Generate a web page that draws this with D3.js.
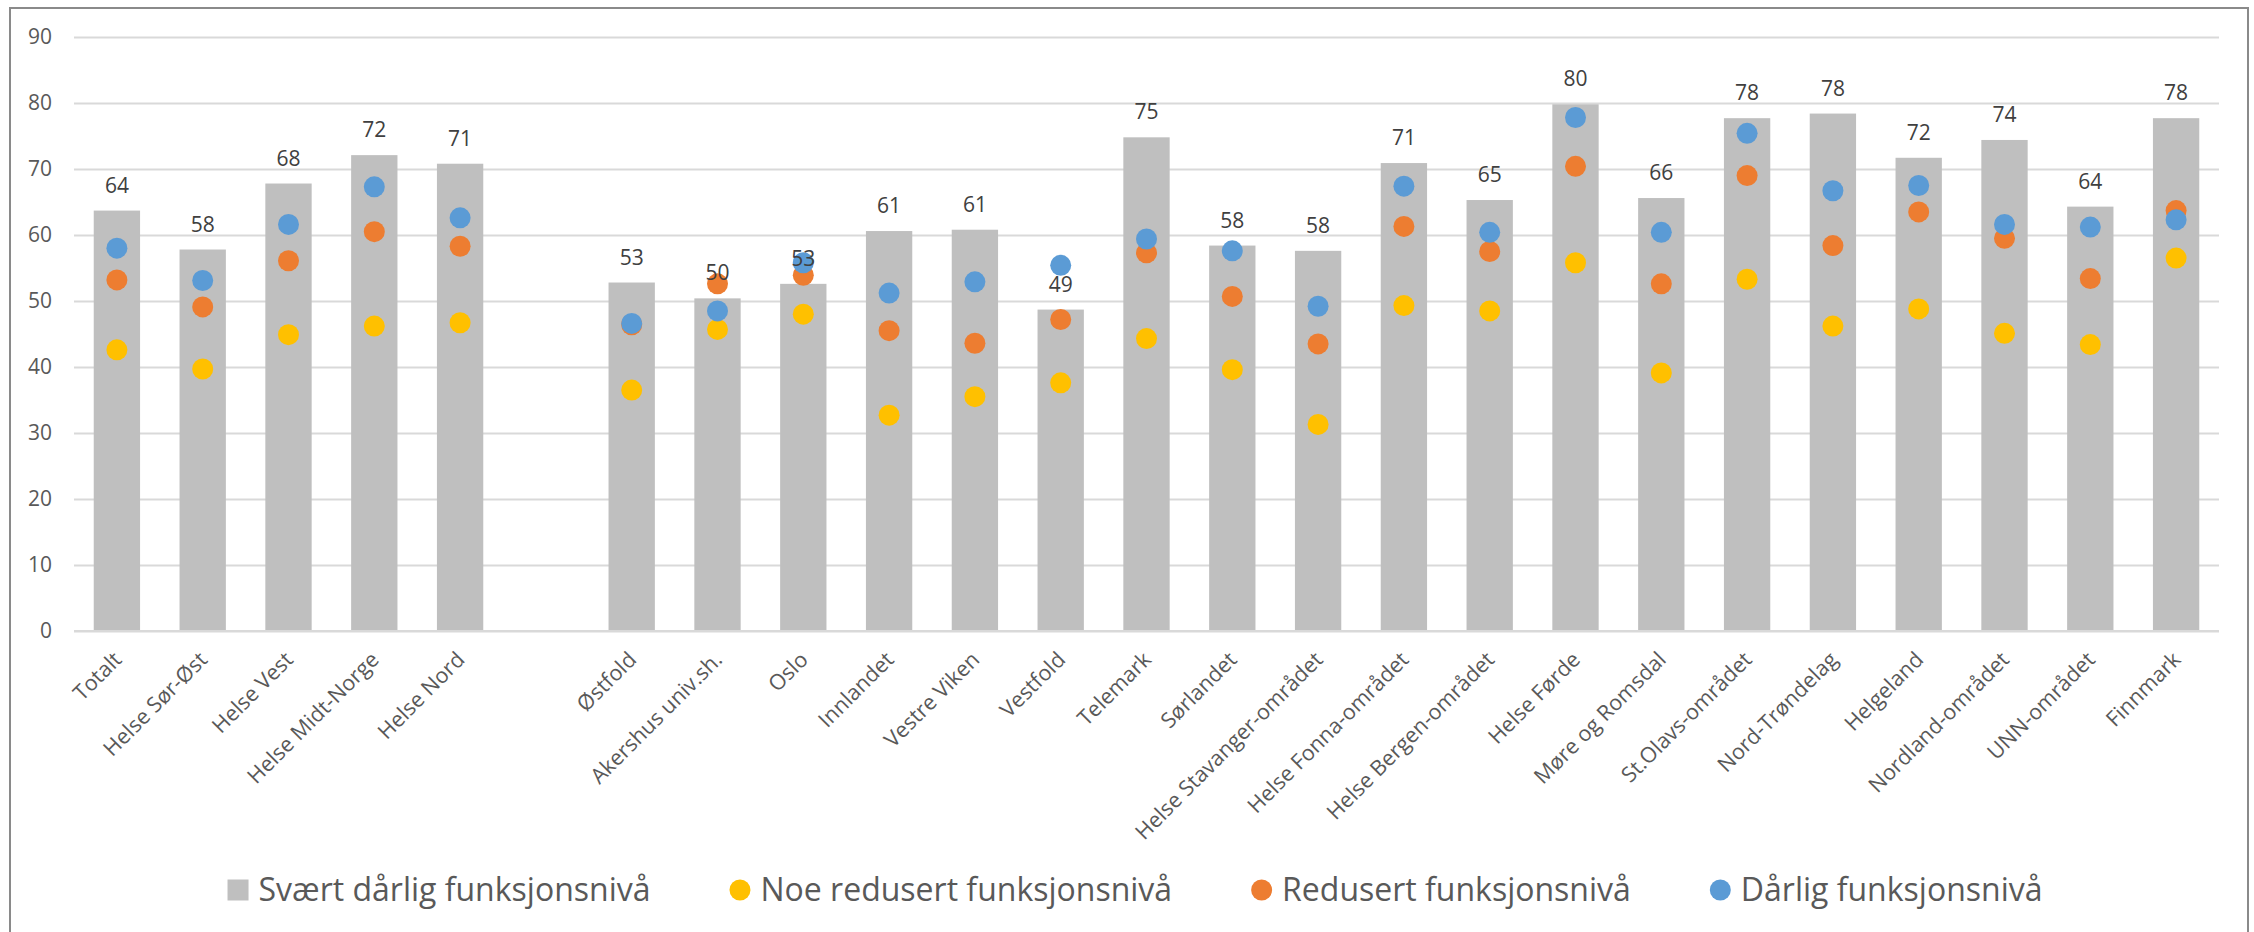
<!DOCTYPE html>
<html>
<head>
<meta charset="utf-8">
<script src="https://cdn.jsdelivr.net/npm/d3@7"></script>
<style>
  html, body { margin: 0; padding: 0; background: #fff; }
  svg { display: block; }
  text { font-family: "Open Sans", "Noto Sans", sans-serif; }
</style>
</head>
<body>
<svg id="chart" width="2254" height="932"></svg>
<script>
// ---------------- data ----------------
const categories = ["Totalt","Helse Sør-Øst","Helse Vest","Helse Midt-Norge","Helse Nord","",
  "Østfold","Akershus univ.sh.","Oslo","Innlandet","Vestre Viken","Vestfold","Telemark","Sørlandet",
  "Helse Stavanger-området","Helse Fonna-området","Helse Bergen-området","Helse Førde","Møre og Romsdal",
  "St.Olavs-området","Nord-Trøndelag","Helgeland","Nordland-området","UNN-området","Finnmark"];

const svaertDarlig = [63.7,57.8,67.8,72.1,70.8,null,52.8,50.4,52.6,60.6,60.8,48.7,74.8,58.4,57.6,70.9,65.3,79.8,65.6,77.7,78.4,71.7,74.4,64.3,77.7];
const noeRedusert  = [42.6,39.7,44.9,46.2,46.7,null,36.5,45.7,48.0,32.7,35.5,37.6,44.3,39.6,31.3,49.3,48.5,55.8,39.1,53.3,46.2,48.8,45.1,43.4,56.5];
const redusert     = [53.2,49.1,56.1,60.5,58.3,null,46.4,52.6,53.9,45.5,43.6,47.2,57.3,50.7,43.5,61.3,57.5,70.4,52.6,69.0,58.4,63.5,59.5,53.4,63.7];
const darlig       = [58.0,53.1,61.6,67.3,62.6,null,46.6,48.5,55.8,51.2,52.9,55.4,59.4,57.6,49.2,67.4,60.4,77.8,60.4,75.4,66.7,67.5,61.6,61.2,62.3];

const yTicks = [0,10,20,30,40,50,60,70,80,90];

const seriesNames = ["Svært dårlig funksjonsnivå","Noe redusert funksjonsnivå","Redusert funksjonsnivå","Dårlig funksjonsnivå"];
const seriesColors = ["#BFBFBF","#FFC000","#ED7D31","#5B9BD5"];

// ---------------- layout ----------------
const svg = d3.select("#chart");
const W = 2254, H = 932;
const plot = { left: 74, right: 2219, top: 37, bottom: 631 };

svg.append("rect").attr("x",0).attr("y",0).attr("width",W).attr("height",H).attr("fill","#fff");
svg.append("rect").attr("x",10).attr("y",8).attr("width",2238).attr("height",940)
   .attr("fill","none").attr("stroke","#8a8a8a").attr("stroke-width",2);

const idx = d3.range(categories.length);
const x = d3.scaleBand().domain(idx).range([plot.left, plot.right]).paddingInner(0.46).paddingOuter(0.23);
const y = d3.scaleLinear().domain([0,90]).range([plot.bottom, plot.top]);

// gridlines
const yAxis = d3.axisLeft(y).tickValues(yTicks).tickSize(-(plot.right-plot.left)).tickPadding(22).tickFormat(d3.format("d"));
const gy = svg.append("g").attr("transform",`translate(${plot.left},0)`).call(yAxis);
gy.select(".domain").remove();
gy.selectAll(".tick line").attr("stroke","#D9D9D9").attr("stroke-width",2);
gy.selectAll(".tick text").attr("fill","#595959").style("font-size","21px").style("font-family","'Open Sans'");

// bars
svg.append("g").selectAll("rect").data(idx.filter(i => svaertDarlig[i] != null)).join("rect")
  .attr("x", i => x(i)).attr("width", x.bandwidth())
  .attr("y", i => y(svaertDarlig[i])).attr("height", i => y(0) - y(svaertDarlig[i]))
  .attr("fill", seriesColors[0]);

// x axis baseline
svg.append("line").attr("x1",plot.left).attr("x2",plot.right).attr("y1",y(0)).attr("y2",y(0))
  .attr("stroke","#D9D9D9").attr("stroke-width",2);

// dots: yellow, orange, blue (blue on top)
const dotSeries = [noeRedusert, redusert, darlig];
dotSeries.forEach((vals, s) => {
  svg.append("g").selectAll("circle").data(idx.filter(i => vals[i] != null)).join("circle")
    .attr("cx", i => x(i) + x.bandwidth()/2)
    .attr("cy", i => y(vals[i]))
    .attr("r", 10.5)
    .attr("fill", seriesColors[s+1]);
});

// data labels
svg.append("g").selectAll("text").data(idx.filter(i => svaertDarlig[i] != null)).join("text")
  .attr("x", i => x(i) + x.bandwidth()/2)
  .attr("y", i => y(svaertDarlig[i]) - 18)
  .attr("text-anchor","middle")
  .attr("fill","#404040")
  .style("font-size","21px")
  .text(i => d3.format(".0f")(svaertDarlig[i]));

// category labels
const xAxis = d3.axisBottom(x).tickSize(0).tickFormat(i => categories[i]);
const gx = svg.append("g").attr("transform",`translate(0,${plot.bottom})`).call(xAxis);
gx.select(".domain").remove();
gx.selectAll(".tick text")
  .attr("fill","#595959").style("font-size","21.5px").style("font-family","'Open Sans'")
  .attr("text-anchor","end")
  .attr("dy",null).attr("y",null)
  .attr("transform","translate(6,30) rotate(-45)");

// legend
const legend = svg.append("g");
const legendY = 890;
const items = seriesNames.map((name, s) => {
  const g = legend.append("g");
  if (s === 0) {
    g.append("rect").attr("x",0).attr("y",legendY-10.5).attr("width",21).attr("height",21).attr("fill",seriesColors[s]);
  } else {
    g.append("circle").attr("cx",10.5).attr("cy",legendY).attr("r",10.5).attr("fill",seriesColors[s]);
  }
  const t = g.append("text").attr("x",31).attr("y",legendY+11).attr("fill","#595959")
    .style("font-size","32px").text(name);
  return { g, w: 31 + t.node().getComputedTextLength() };
});
const gap = 79;
const total = d3.sum(items, d => d.w) + gap*(items.length-1);
let cx = 1135 - total/2;
items.forEach(it => { it.g.attr("transform",`translate(${cx},0)`); cx += it.w + gap; });
</script>
</body>
</html>
